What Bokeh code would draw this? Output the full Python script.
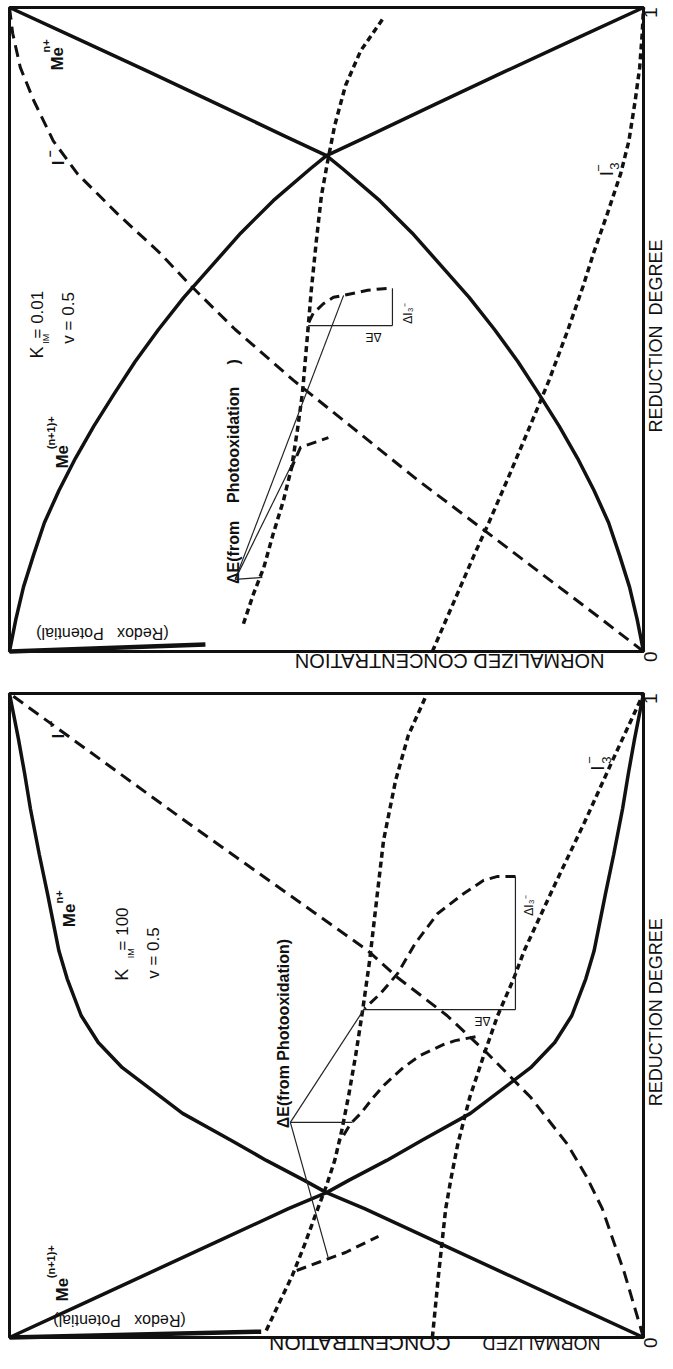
import math
from bokeh.plotting import figure
from bokeh.models import Range1d, Label
from bokeh.layouts import column
from bokeh.embed import file_html
from bokeh.resources import INLINE

FONT = "Liberation Sans"
NB = "\u00a0"

# ---------------- axis ticks (reduction degree) ----------------
rd_ticks = [0, 1]

# ================= TOP PANEL  (K_IM = 0.01, v = 0.5) =================
top_me_rd = [0, 0.05, 0.10, 0.15, 0.20, 0.25, 0.30, 0.35, 0.40, 0.45, 0.50, 0.55,
             0.60, 0.65, 0.70, 0.75, 0.77, 0.80, 0.85, 0.90, 0.95, 1.00]
top_me_n = [0, 0.010, 0.022, 0.038, 0.055, 0.078, 0.104, 0.133, 0.165, 0.198, 0.235, 0.275,
            0.320, 0.365, 0.416, 0.475, 0.500, 0.565, 0.672, 0.780, 0.890, 1.000]
top_me_n1 = [1.000, 0.990, 0.978, 0.962, 0.945, 0.922, 0.896, 0.867, 0.835, 0.802, 0.765, 0.725,
             0.680, 0.635, 0.584, 0.525, 0.500, 0.435, 0.328, 0.220, 0.110, 0.000]

top_i_rd = [0, 0.05, 0.10, 0.15, 0.20, 0.266, 0.35, 0.421, 0.50, 0.568, 0.618, 0.68,
            0.742, 0.793, 0.856, 0.907, 0.96, 1.0]
top_i = [0, 0.066, 0.133, 0.200, 0.267, 0.356, 0.462, 0.552, 0.644, 0.714, 0.762, 0.830,
         0.893, 0.931, 0.962, 0.983, 0.995, 1.0]
top_i3 = [0.333, 0.311, 0.289, 0.267, 0.244, 0.215, 0.179, 0.149, 0.119, 0.095, 0.079, 0.057,
          0.036, 0.023, 0.013, 0.006, 0.002, 0.0]

top_redox_rd = [0.043, 0.090, 0.130, 0.183, 0.234, 0.286, 0.343, 0.401, 0.491, 0.561, 0.638,
                0.708, 0.762, 0.817, 0.879, 0.933, 0.984]
top_redox = [0.631, 0.615, 0.599, 0.584, 0.568, 0.555, 0.546, 0.538, 0.530, 0.524, 0.516,
             0.508, 0.498, 0.487, 0.470, 0.446, 0.410]

top_photo1_rd = [0.511, 0.525, 0.540, 0.550, 0.553, 0.561, 0.563, 0.564]
top_photo1 = [0.528, 0.521, 0.505, 0.489, 0.473, 0.435, 0.415, 0.396]
top_photo2_rd = [0.281, 0.317, 0.332]
top_photo2 = [0.557, 0.541, 0.497]

top_base_rd = [0.0, 0.011]
top_base = [1.0, 0.691]

top_de_rd = [0.506, 0.506]          # Delta E bracket
top_de = [0.529, 0.396]
top_di3_rd = [0.506, 0.564]         # Delta I3- bracket
top_di3 = [0.396, 0.396]
top_ptr_rd = [[0.112, 0.553], [0.112, 0.314], [0.112, 0.115]]
top_ptr = [[0.644, 0.473], [0.644, 0.543], [0.644, 0.601]]

# ================= BOTTOM PANEL  (K_IM = 100, v = 0.5) =================
bot_me_rd = [0, 0.05, 0.10, 0.15, 0.20, 0.225, 0.244, 0.275, 0.306, 0.348, 0.419, 0.458,
             0.50, 0.557, 0.60, 0.689, 0.75, 0.821, 0.875, 0.93, 1.0]
bot_me_n = [0, 0.11, 0.22, 0.33, 0.44, 0.50, 0.535, 0.595, 0.65, 0.727, 0.822, 0.86,
            0.887, 0.909, 0.922, 0.94, 0.953, 0.967, 0.976, 0.986, 1.0]
bot_me_n1 = [1.0, 0.89, 0.78, 0.67, 0.56, 0.50, 0.465, 0.405, 0.35, 0.273, 0.178, 0.14,
             0.113, 0.091, 0.078, 0.06, 0.047, 0.033, 0.024, 0.014, 0.0]

bot_i_rd = [0, 0.10, 0.20, 0.25, 0.30, 0.373, 0.441, 0.50, 0.559, 0.601, 0.705, 0.80, 0.90, 1.0]
bot_i = [0, 0.03, 0.065, 0.09, 0.12, 0.178, 0.246, 0.31, 0.388, 0.435, 0.584, 0.72, 0.86, 1.0]
bot_i3 = [0.333, 0.323, 0.312, 0.303, 0.293, 0.274, 0.251, 0.23, 0.204, 0.188, 0.139, 0.093,
          0.047, 0.0]

bot_redox_rd = [0.011, 0.057, 0.096, 0.143, 0.194, 0.236, 0.275, 0.321, 0.376, 0.438, 0.508,
                0.585, 0.679, 0.772, 0.865, 0.935, 0.994]
bot_redox = [0.595, 0.573, 0.554, 0.535, 0.516, 0.500, 0.487, 0.476, 0.465, 0.454, 0.443,
             0.432, 0.421, 0.410, 0.391, 0.371, 0.344]

bot_photo1_rd = [0.716, 0.716, 0.710, 0.689, 0.658, 0.612, 0.565, 0.534, 0.511]
bot_photo1 = [0.202, 0.230, 0.252, 0.284, 0.325, 0.360, 0.388, 0.415, 0.440]
bot_photo2_rd = [0.467, 0.461, 0.455, 0.438, 0.419, 0.394, 0.373, 0.348, 0.332, 0.306]
bot_photo2 = [0.265, 0.297, 0.315, 0.352, 0.379, 0.407, 0.426, 0.446, 0.462, 0.478]
bot_photo3_rd = [0.104, 0.118, 0.132, 0.148, 0.157]
bot_photo3 = [0.547, 0.509, 0.470, 0.437, 0.418]

bot_base_rd = [0.0, 0.009]
bot_base = [1.0, 0.603]

bot_de_rd = [0.509, 0.509]
bot_de = [0.442, 0.202]
bot_di3_rd = [0.509, 0.716]
bot_di3 = [0.202, 0.202]
bot_ptr_rd = [[0.334, 0.511], [0.334, 0.334], [0.334, 0.123]]
bot_ptr = [[0.557, 0.440], [0.557, 0.459], [0.557, 0.497]]

# ---------------- layout constants (pixels) ----------------
W = 672            # canvas width
BOX_L, BOX_R = 9, 643      # panel box, horizontal
BOX_H = 644                # panel box height
PX_C = BOX_R - BOX_L       # pixels per unit concentration


def txt(p, text, c, r, angle=math.pi / 2, size=16, style="normal",
        align="left", baseline="middle"):
    p.add_layout(Label(x=c, y=r, text=text, angle=angle, text_font=FONT,
                       text_font_size=f"{size}px", text_font_style=style,
                       text_align=align, text_baseline=baseline,
                       text_color="#111111"))


def make_panel(height, box_top):
    box_bottom = box_top + BOX_H
    xr = Range1d(1 + BOX_L / PX_C, -(W - BOX_R) / PX_C)
    yr = Range1d(-(height - box_bottom) / BOX_H, 1 + box_top / BOX_H)
    p = figure(frame_width=W, frame_height=height, x_range=xr, y_range=yr,
               x_axis_location=None, y_axis_location=None,
               toolbar_location=None, output_backend="svg",
               min_border=0, outline_line_color=None,
               background_fill_color="white", border_fill_color="white")
    p.grid.visible = False
    # panel box (normalized concentration 0..1 x reduction degree 0..1)
    p.quad(left=[1], right=[0], bottom=[0], top=[1], fill_color=None,
           line_color="#111111", line_width=3)
    # reduction-degree tick labels
    for t in rd_ticks:
        txt(p, str(t), -0.011, t - 0.008, size=19, align="center")
    return p


SOLID = dict(line_color="#111111", line_width=3.5)
LONG = dict(line_color="#111111", line_width=3, line_dash="12 7")
SHORT = dict(line_color="#111111", line_width=3.5, line_dash="6 4")
PHOTO = dict(line_color="#111111", line_width=3, line_dash="10 6")
THIN = dict(line_color="#222222", line_width=1.2)

# ---------------- top panel ----------------
p1 = make_panel(686, 7)
p1.line(top_me_n, top_me_rd, **SOLID)
p1.line(top_me_n1, top_me_rd, **SOLID)
p1.line(top_i, top_i_rd, **LONG)
p1.line(top_i3, top_i_rd, **SHORT)
p1.line(top_redox, top_redox_rd, **SHORT)
p1.line(top_photo1, top_photo1_rd, **PHOTO)
p1.line(top_photo2, top_photo2_rd, **PHOTO)
p1.line(top_base, top_base_rd, line_color="#111111", line_width=4.5)
p1.line(top_de, top_de_rd, **THIN)
p1.line(top_di3, top_di3_rd, **THIN)
p1.multi_line(top_ptr, top_ptr_rd, **THIN)

txt(p1, "Me", 0.924, 0.902, size=17, style="bold")
txt(p1, "n+", 0.942, 0.930, size=11, style="bold")
txt(p1, "I", 0.923, 0.755, size=17, style="bold")
txt(p1, "\u2212", 0.937, 0.767, size=12, style="bold")
txt(p1, "Me", 0.916, 0.284, size=17, style="bold")
txt(p1, "(n+1)+", 0.935, 0.314, size=11, style="bold")
txt(p1, "K", 0.956, 0.455, size=18)
txt(p1, "IM", 0.942, 0.478, size=9)
txt(p1, "= 0.01", 0.956, 0.486, size=17)
txt(p1, "v = 0.5", 0.907, 0.478, size=17)
txt(p1, "\u0394E(from" + NB * 4 + "Photooxidation" + NB * 5 + ")", 0.647, 0.105,
    size=16, style="bold")
txt(p1, "\u0394E", 0.426, 0.489, angle=math.pi, size=12, align="center")
txt(p1, "\u0394I\u2083\u207b", 0.372, 0.509, size=12)
txt(p1, "I", 0.058, 0.738, size=19)
txt(p1, "3", 0.046, 0.748, size=13)
txt(p1, "\u2212", 0.071, 0.745, size=13)
txt(p1, "(Redox" + NB * 3 + "Potential)", 0.749, 0.028, angle=math.pi, size=16)
txt(p1, "NORMALIZED CONCENTRATION", 0.0615, -0.0155, angle=math.pi, size=20,
    baseline="alphabetic")
txt(p1, "REDUCTION" + NB * 2 + "DEGREE", -0.020, 0.490, size=18, align="center")

# ---------------- bottom panel ----------------
p2 = make_panel(682, 7)
p2.line(bot_me_n, bot_me_rd, **SOLID)
p2.line(bot_me_n1, bot_me_rd, **SOLID)
p2.line(bot_i, bot_i_rd, **LONG)
p2.line(bot_i3, bot_i_rd, **SHORT)
p2.line(bot_redox, bot_redox_rd, **SHORT)
p2.line(bot_photo1, bot_photo1_rd, **PHOTO)
p2.line(bot_photo2, bot_photo2_rd, **PHOTO)
p2.line(bot_photo3, bot_photo3_rd, **PHOTO)
p2.line(bot_base, bot_base_rd, line_color="#111111", line_width=4.5)
p2.line(bot_de, bot_de_rd, **THIN)
p2.line(bot_di3, bot_di3_rd, **THIN)
p2.multi_line(bot_ptr, bot_ptr_rd, **THIN)

txt(p2, "I", 0.923, 0.930, size=17, style="bold")
txt(p2, "\u2212", 0.935, 0.947, size=12, style="bold")
txt(p2, "Me", 0.905, 0.637, size=17, style="bold")
txt(p2, "n+", 0.922, 0.674, size=11, style="bold")
txt(p2, "K", 0.822, 0.554, size=18)
txt(p2, "IM", 0.809, 0.589, size=9)
txt(p2, "= 100", 0.822, 0.601, size=17)
txt(p2, "v = 0.5", 0.773, 0.557, size=17)
txt(p2, "\u0394E(from Photooxidation)", 0.568, 0.325, size=16, style="bold")
txt(p2, "\u0394E", 0.254, 0.492, angle=math.pi, size=12, align="center")
txt(p2, "\u0394I\u2083\u207b", 0.181, 0.655, size=12)
txt(p2, "I", 0.073, 0.880, size=19)
txt(p2, "3", 0.058, 0.891, size=13)
txt(p2, "\u2212", 0.085, 0.891, size=13)
txt(p2, "Me", 0.916, 0.056, size=17, style="bold")
txt(p2, "(n+1)+", 0.934, 0.092, size=11, style="bold")
txt(p2, "(Redox" + NB * 3 + "Potential)", 0.722, 0.026, angle=math.pi, size=16)
txt(p2, "NORMALIZED", 0.068, -0.009, angle=math.pi, size=18, baseline="alphabetic")
txt(p2, "CONCENTRATION", 0.304, -0.009, angle=math.pi, size=21, baseline="alphabetic")
txt(p2, "REDUCTION DEGREE", -0.020, 0.505, size=18, align="center")

layout = column(p1, p2)
open("out.html", "w").write(file_html(layout, INLINE))
